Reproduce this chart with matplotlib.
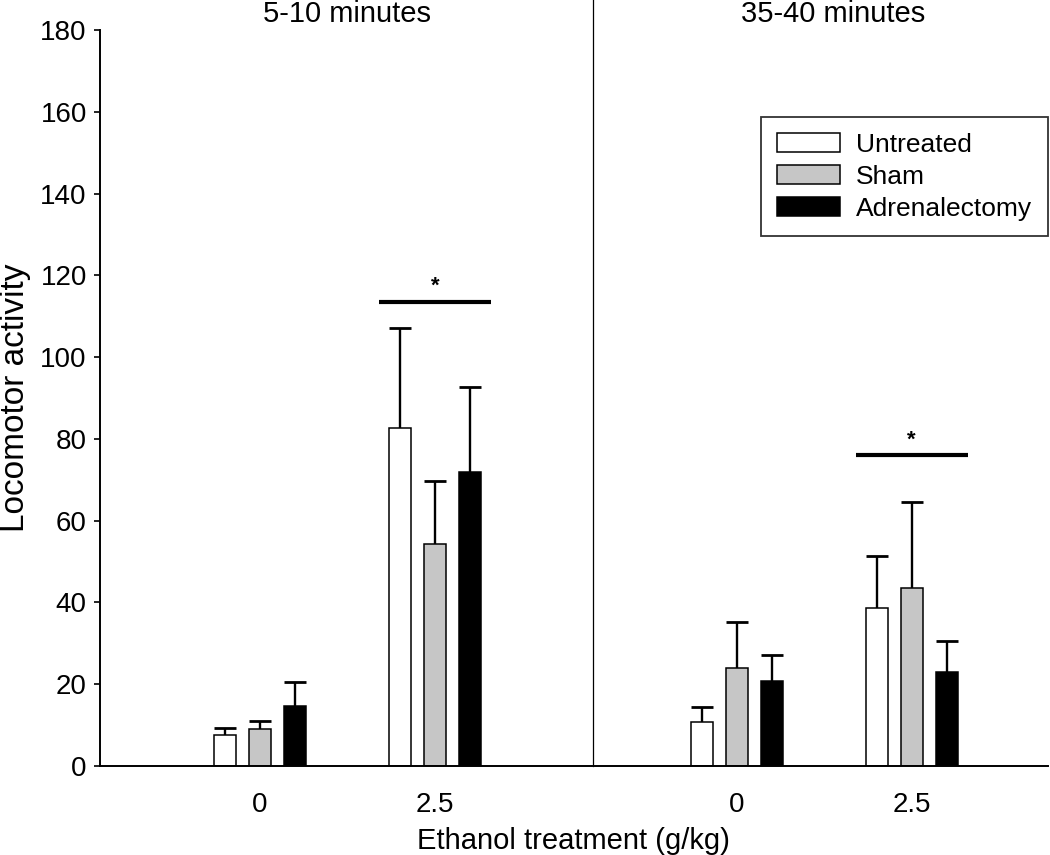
import matplotlib
matplotlib.use("Agg")
import matplotlib.pyplot as plt

plt.rcParams['font.family'] = ['Liberation Sans', 'DejaVu Sans']

# values
series = ["Untreated", "Sham", "Adrenalectomy"]
dose_labels = ["0", "2.5", "0", "2.5"]
periods = ["5-10 minutes", "35-40 minutes"]

untreated = [7.6, 82.7, 10.7, 38.7]
sham = [9.0, 54.2, 23.9, 43.6]
adrenalectomy = [14.7, 72.0, 20.8, 22.9]

untreated_err = [1.7, 24.5, 3.7, 12.7]
sham_err = [2.0, 15.6, 11.2, 20.9]
adrenalectomy_err = [5.8, 20.6, 6.3, 7.7]

# significance bars: (group index, height)
sig_groups = [1, 3]
sig_heights = [113.5, 76.0]

# layout
group_x = [4.57, 9.57, 18.2, 23.2]
title_x = [7.05, 20.95]
divider_x = 14.09
bar_step = 1.0
bar_w = 0.63
colors = ["white", "#c6c6c6", "black"]

fig = plt.figure(figsize=(10.5, 8.55), dpi=100)
ax = fig.add_axes([0.0952, 0.1041, 0.9028, 0.8608])

means = [untreated, sham, adrenalectomy]
errs = [untreated_err, sham_err, adrenalectomy_err]
for i, name in enumerate(series):
    xs = [g + (i - 1) * bar_step for g in group_x]
    tops = [m + e for m, e in zip(means[i], errs[i])]
    # upper error bars only
    ax.vlines(xs, means[i], tops, color="black", linewidth=1.7, zorder=1)
    ax.hlines(tops, [x - bar_w / 2 for x in xs], [x + bar_w / 2 for x in xs],
              color="black", linewidth=2.0, zorder=1)
    ax.bar(xs, means[i], width=bar_w, color=colors[i], edgecolor="black",
           linewidth=1.1, label=name, zorder=2)

for g, h in zip(sig_groups, sig_heights):
    ax.plot([group_x[g] - 1.6, group_x[g] + 1.6], [h, h], color="black",
            linewidth=3, solid_capstyle="butt")
    ax.text(group_x[g], h + 1.2, "*", ha="center", va="bottom",
            fontsize=16, fontweight="bold")

ax.axvline(divider_x, ymin=0, ymax=1.041, color="black", linewidth=0.9,
           clip_on=False)

for tx, t in zip(title_x, periods):
    ax.text(tx, 1.022, t, transform=ax.get_xaxis_transform(), ha="center",
            va="center", fontsize=21)

ax.set_xlim(0, 27.09)
ax.set_ylim(0, 180)
ax.set_yticks(range(0, 181, 20))
ax.set_xticks(group_x)
ax.set_xticklabels(dose_labels)
ax.tick_params(axis="x", length=0, pad=19, labelsize=20)
ax.tick_params(axis="y", length=4.5, width=1.2, pad=5, labelsize=20)

ax.spines["top"].set_visible(False)
ax.spines["right"].set_visible(False)
ax.spines["left"].set_linewidth(1.4)
ax.spines["bottom"].set_linewidth(1.4)

ax.set_xlabel("Ethanol treatment (g/kg)", fontsize=21, labelpad=6)
ax.set_ylabel("Locomotor activity", fontsize=24, labelpad=7)

leg = ax.legend(loc="upper right", bbox_to_anchor=(1.0, 0.882),
                borderaxespad=0, fontsize=19, fancybox=False,
                handlelength=2.4, handleheight=0.75, handletextpad=0.6,
                labelspacing=0.3, borderpad=0.6)
leg.get_frame().set_edgecolor("black")
leg.get_frame().set_linewidth(1.3)

fig.savefig("out.png", dpi=100)
